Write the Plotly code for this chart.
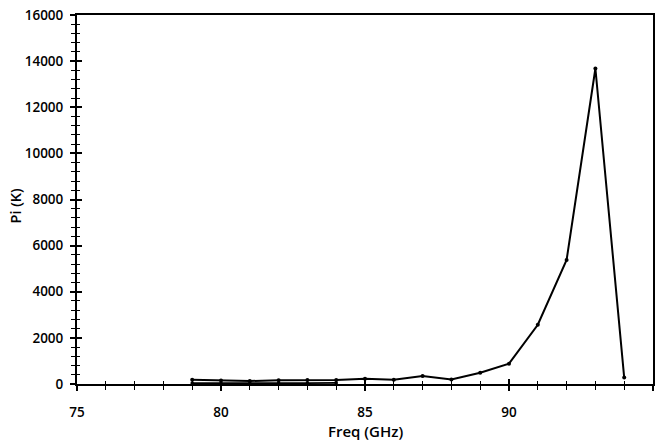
import plotly.graph_objects as go

freq = [79, 80, 81, 82, 83, 84, 85, 86, 87, 88, 89, 90, 91, 92, 93, 94]
pi_k = [180, 150, 130, 160, 170, 170, 230, 180, 350, 200, 490, 880, 2570, 5380, 13680, 280]
freq2 = [79, 80, 81, 82, 83, 84]
pi_k2 = [40, 30, 30, 40, 40, 50]

x_ticks = [75, 80, 85, 90, 95]
y_ticks = [0, 2000, 4000, 6000, 8000, 10000, 12000, 14000, 16000]
y_tick_text = [str(v) for v in y_ticks]
x_title = "Freq (GHz)"
y_title = "Pi (K)"

fig = go.Figure()
fig.add_trace(go.Scatter(x=freq2, y=pi_k2, mode="lines+markers",
                         line=dict(color="black", width=1.6),
                         marker=dict(symbol="circle", size=3.5, color="black"),
                         showlegend=False))
fig.add_trace(go.Scatter(x=freq, y=pi_k, mode="lines+markers",
                         line=dict(color="black", width=2),
                         marker=dict(symbol="circle", size=4, color="black"),
                         showlegend=False))
# invisible helper trace to render inward ticks on overlay axes
fig.add_trace(go.Scatter(x=[75], y=[0], xaxis="x2", yaxis="y2", mode="markers",
                         marker=dict(size=0.1, opacity=0), showlegend=False, hoverinfo="skip"))

font = dict(family="Open Sans, Lato, sans-serif", size=13, color="black", weight=600)

fig.update_layout(
    width=660, height=445,
    margin=dict(l=77, r=5, t=15, b=61),
    paper_bgcolor="white", plot_bgcolor="white",
    font=font,
    xaxis=dict(range=[75, 95], tickvals=x_ticks, ticks="outside", ticklen=5, tickwidth=1.5,
               tickcolor="black", showline=True, linecolor="black", linewidth=2, mirror=True,
               showgrid=False, zeroline=False, ticklabelstandoff=10,
               minor=dict(dtick=1, ticks="outside", ticklen=4, tickwidth=1.2, tickcolor="black"),
               tickfont=dict(size=13.5, weight=600)),
    yaxis=dict(range=[0, 16000], tickvals=y_ticks, ticktext=y_tick_text, ticks="outside", ticklen=5,
               tickwidth=1.5, tickcolor="black", showline=True, linecolor="black", linewidth=2,
               mirror=True, showgrid=False, zeroline=False, ticklabelstandoff=4,
               minor=dict(dtick=400, ticks="outside", ticklen=4, tickwidth=1.2, tickcolor="black"),
               tickfont=dict(size=13.5, weight=600)),
    xaxis2=dict(overlaying="x", matches="x", range=[75, 95], tickvals=x_ticks, ticks="inside",
                ticklen=5, tickwidth=1.5, tickcolor="black", showticklabels=False,
                showgrid=False, zeroline=False, showline=False, side="bottom",
                minor=dict(dtick=1, ticks="inside", ticklen=3, tickwidth=1.2, tickcolor="black")),
    yaxis2=dict(overlaying="y", matches="y", range=[0, 16000], tickvals=y_ticks, ticks="inside",
                ticklen=5, tickwidth=1.5, tickcolor="black", showticklabels=False,
                showgrid=False, zeroline=False, showline=False, side="left",
                minor=dict(dtick=400, ticks="inside", ticklen=3, tickwidth=1.2, tickcolor="black")),
    annotations=[
        dict(text=x_title, xref="paper", yref="paper", x=0.5, y=0, xanchor="center",
             yanchor="middle", yshift=-47, showarrow=False, font=dict(size=15, weight=600)),
        dict(text=y_title, xref="paper", yref="paper", x=0, y=0.5, xanchor="center",
             yanchor="middle", xshift=-62, yshift=-6, textangle=-90, showarrow=False,
             font=dict(size=14.5, weight=600)),
    ],
)

fig.write_html("out.html")
